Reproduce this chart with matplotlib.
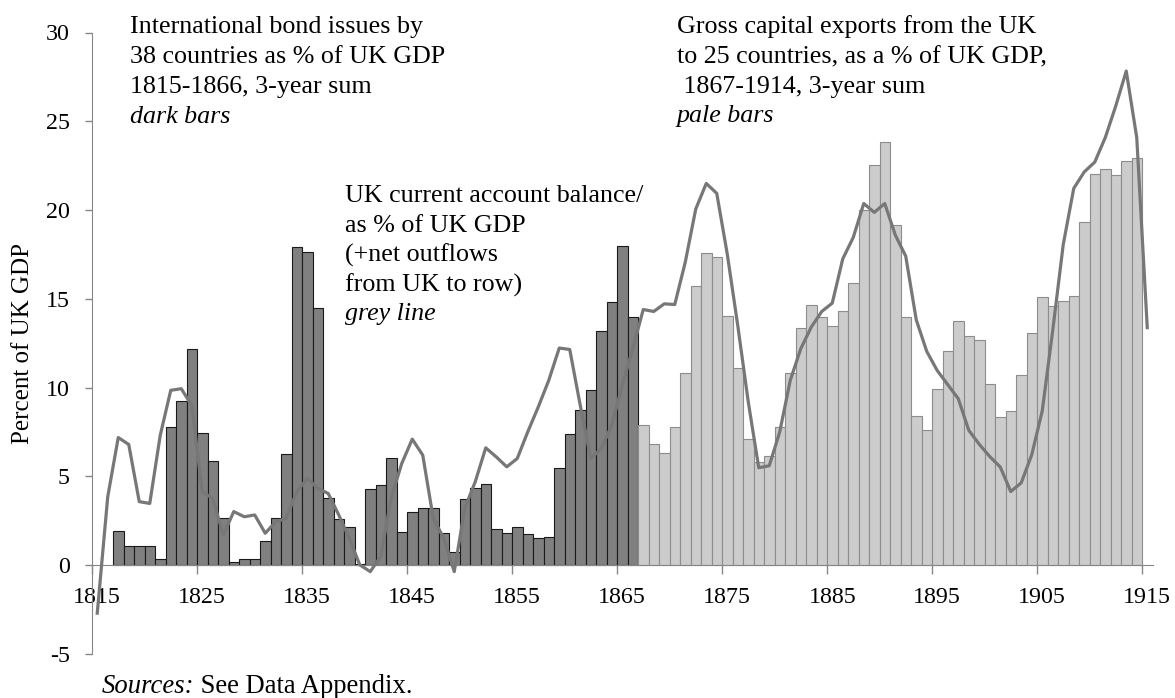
import matplotlib
matplotlib.use("Agg")
import matplotlib.pyplot as plt
import numpy as np

plt.rcParams['font.family'] = ['Liberation Serif', 'DejaVu Serif']
plt.rcParams['axes.unicode_minus'] = False

# international bond issues, 3-year sum, % of UK GDP (dark bars)
bond_years = list(range(1817, 1867))
bond_vals = [1.9, 1.1, 1.1, 1.1, 0.35, 7.8, 9.25, 12.15, 7.43, 5.88,
             2.64, 0.17, 0.35, 0.35, 1.37, 2.64, 6.25, 17.94, 17.66, 14.5,
             3.8, 2.6, 2.17, 0.05, 4.27, 4.5, 6.05, 1.89, 3.0, 3.24,
             3.24, 1.8, 0.77, 3.73, 4.33, 4.55, 2.02, 1.8, 2.17, 1.74,
             1.52, 1.6, 5.49, 7.4, 8.73, 9.85, 13.18, 14.85, 17.96, 14.0]

# gross capital exports, 3-year sum, % of UK GDP (pale bars)
export_years = list(range(1867, 1915))
export_vals = [7.88, 6.82, 6.33, 7.81, 10.82, 15.73, 17.6, 17.34, 14.06, 11.12,
               7.1, 5.82, 6.16, 7.81, 10.82, 13.37, 14.66, 14.0, 13.45, 14.29,
               15.92, 20.02, 22.55, 23.86, 19.15, 13.98, 8.39, 7.64, 9.91, 12.04,
               13.78, 12.93, 12.71, 10.23, 8.33, 8.69, 10.72, 13.07, 15.10, 14.61,
               14.90, 15.18, 19.35, 22.05, 22.31, 21.95, 22.74, 22.96]

# UK current account balance, % of UK GDP (grey line)
ca_years = list(range(1815, 1916))
ca_vals = [-2.7, 3.86, 7.19, 6.8, 3.58, 3.48, 7.32, 9.85, 9.94, 9.0,
           4.14, 3.76, 1.7, 3.02, 2.73, 2.83, 1.8, 2.45, 2.64, 4.14,
           4.89, 4.33, 4.04, 2.83, 1.52, 0.02, -0.36, 0.5, 3.8, 5.73,
           7.1, 6.2, 2.64, 1.52, -0.36, 3.2, 4.7, 6.61, 6.1, 5.54,
           6.01, 7.51, 8.91, 10.41, 12.23, 12.15, 9.0, 6.01, 6.57, 7.88,
           10.13, 12.19, 14.4, 14.29, 14.72, 14.68, 17.06, 20.06, 21.5, 20.94,
           17.53, 13.5, 9.2, 5.49, 5.6, 7.51, 10.41, 12.19, 13.41, 14.29,
           14.76, 17.25, 18.46, 20.37, 19.87, 20.37, 18.6, 17.4, 13.82, 12.04,
           10.96, 10.17, 9.38, 7.6, 6.81, 6.12, 5.53, 4.15, 4.64, 6.22,
           8.69, 13.23, 18.06, 21.22, 22.15, 22.7, 24.08, 25.86, 27.83, 24.08,
           13.38]

label_years = list(range(1815, 1916, 10))

W, H = 1175, 698
fig = plt.figure(figsize=(W / 100, H / 100), dpi=100)
ax = fig.add_axes([92 / W, (H - 654) / H, (1152.5 - 92) / W, (654 - 32.5) / H])

ax.bar(bond_years, bond_vals, width=1, align='edge', color='#808080',
       edgecolor='#1a1a1a', linewidth=0.8, zorder=2)
ax.bar(export_years, export_vals, width=1, align='edge', color='#cccccc',
       edgecolor='#8c8c8c', linewidth=0.8, zorder=2)
ax.plot(np.array(ca_years) + 0.5, ca_vals, color='#777777', linewidth=2.3,
        zorder=3, solid_joinstyle='round')

ax.set_xlim(1815, 1916)
ax.set_ylim(-5, 30)
ax.set_yticks(range(-5, 31, 5))

# tick marks at slot edges, labels at slot centres
ax.set_xticks(label_years)
ax.set_xticklabels([])
ax.set_xticks([y + 0.5 for y in label_years], minor=True)
ax.set_xticklabels([str(y) for y in label_years], minor=True)
ax.tick_params(axis='x', which='major', length=6.5, width=1, color='#868686', direction='out')
ax.tick_params(axis='x', which='minor', length=0, pad=15.5, labelsize=17.3)
ax.tick_params(axis='y', length=5, width=1, color='#868686', pad=11, labelsize=17.3)

for s in ['top', 'right']:
    ax.spines[s].set_visible(False)
ax.spines['bottom'].set_position(('data', 0))
ax.spines['bottom'].set_color('#868686')
ax.spines['left'].set_color('#868686')

fig.text(23 / W, 1 - 343.5 / H, 'Percent of UK GDP', rotation=90,
         ha='center', va='center', fontsize=18)


def block(x, baselines, lines, italic_last=True):
    for i, (yb, txt) in enumerate(zip(baselines, lines)):
        style = 'italic' if (italic_last and i == len(lines) - 1) else 'normal'
        fig.text(x / W, 1 - yb / H, txt, ha='left', va='baseline',
                 fontsize=18.7, style=style)


block(130, [33, 63, 93, 123],
      ['International bond issues by', '38 countries as % of UK GDP',
       '1815-1866, 3-year sum', 'dark bars'])
block(677, [33, 63, 93, 122],
      ['Gross capital exports from the UK', 'to 25 countries, as a % of UK GDP,',
       ' 1867-1914, 3-year sum', 'pale bars'])
block(345, [202, 232, 262, 292, 320],
      ['UK current account balance/', 'as % of UK GDP', '(+net outflows',
       'from UK to row)', 'grey line'])

src = fig.text(102 / W, 1 - 693 / H, 'Sources:', ha='left', va='baseline',
               fontsize=19.2, style='italic')
fig.canvas.draw()
bb = src.get_window_extent()
fig.text(bb.x1 / W, 1 - 693 / H, ' See Data Appendix.', ha='left', va='baseline',
         fontsize=19.2)

fig.savefig('out.png', dpi=100)
